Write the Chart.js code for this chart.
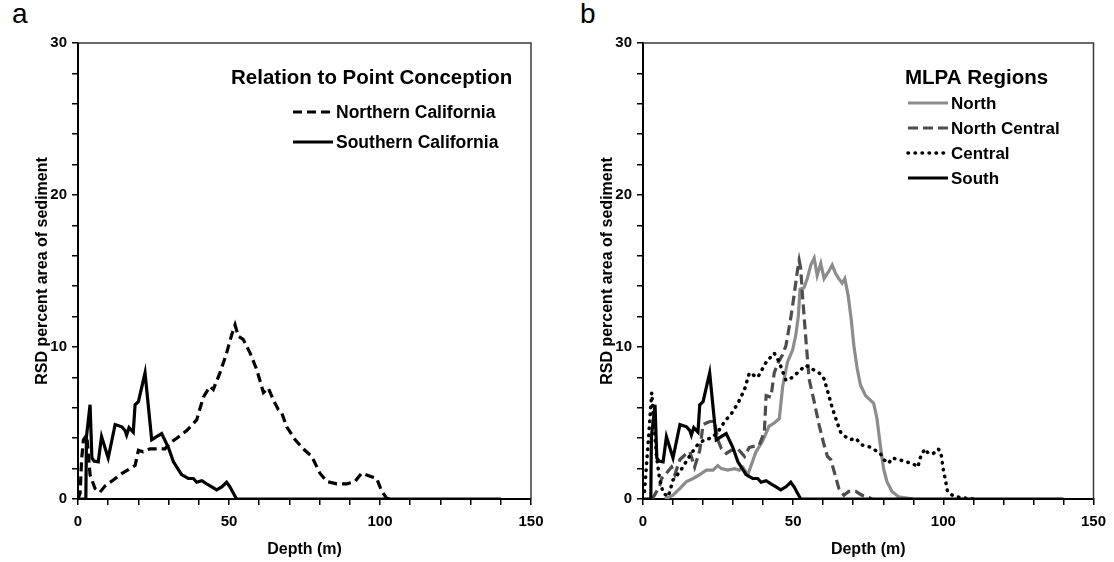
<!DOCTYPE html>
<html>
<head>
  <title>RSD percent area of sediment by depth</title>
  <script src="https://cdn.jsdelivr.net/npm/chart.js"></script>
  <style>
    body { margin: 0; background: #fff; width: 1114px; height: 562px; overflow: hidden; position: relative;
           font-family: "Liberation Sans", Arial, sans-serif; }
    canvas { position: absolute; top: 0; }
    #chartA { left: 0; }
    #chartB { left: 565px; }
    .tag { position: absolute; top: -2px; font-size: 28px; color: #000; }
  </style>
</head>
<body>

<div class="tag" style="left:12px">a</div>
<div class="tag" style="left:580px">b</div>
<canvas id="chartA" width="560" height="562"></canvas>
<canvas id="chartB" width="549" height="562"></canvas>

<script>
// depth (m) / RSD percent values
const southDepth = [0, 2.6, 2.8, 4.0, 4.6, 5.3, 6.7, 7.8, 10, 12.3, 14.5, 15.6, 16.1, 16.9, 18.3, 18.9, 20, 22.2, 24.4,
  27.7, 29.9, 31.6, 34.3, 36.5, 38.2, 39.3, 41, 42.6, 44.3, 45.9, 47.6, 49.2, 50.3, 52.5, 140];
const southRsd = [0, 0, 4.1, 6.2, 2.7, 2.5, 2.45, 4.1, 2.7, 4.9, 4.75, 4.5, 4.2, 4.7, 4.4, 6.2, 6.4, 8.3, 3.9,
  4.3, 3.4, 2.45, 1.6, 1.35, 1.35, 1.1, 1.2, 1.0, 0.8, 0.6, 0.8, 1.1, 0.8, 0, 0];

const northernDepth = [0, 0.7, 1.2, 1.8, 2.9, 4, 5.6, 7.3, 8.9, 11.7, 13.9, 17.2, 18.9, 20, 21.6, 23.8, 26.6, 28.8, 30.5,
  32.7, 36, 39.3, 41.5, 43.7, 44.8, 47, 49.2, 50.9, 52, 53.1, 54.7, 57, 59.2, 61.4, 63, 64.7, 66.3, 67.4, 69.1,
  71.9, 74.6, 77.4, 80.1, 82.4, 85.7, 89, 91.7, 93.9, 96.7, 98.9, 100.6, 102.2, 104.4];
const northernRsd = [0, 0.4, 2.6, 3.9, 4.2, 1.6, 0.7, 0.45, 0.85, 1.25, 1.6, 2.0, 2.2, 3.2, 3.1, 3.3, 3.3, 3.3, 3.7,
  4.0, 4.5, 5.2, 6.7, 7.4, 7.2, 8.3, 9.6, 10.8, 11.45, 10.7, 10.5, 9.6, 8.5, 7.0, 7.3, 6.5, 5.9, 5.7, 4.75,
  3.9, 3.3, 2.8, 1.7, 1.15, 1.0, 1.0, 1.15, 1.7, 1.5, 1.35, 0.5, 0.05, 0];

const northDepth = [7.3, 10, 12.3, 14.5, 16.7, 18.9, 21.1, 23.3, 24.9, 26.1, 28.2, 30.5, 32.1, 33.2, 34.9, 37.6,
  39.8, 42, 43.7, 45.4, 46.5, 48.1, 49.8, 50.9, 51.7, 52.3, 53.6, 54.7, 55.9, 57, 58, 59.2, 60.3, 61.9, 63, 64.1,
  65.2, 66.3, 67.2, 68.3, 69.4, 70.2, 71.3, 72.4, 74.1, 75.7, 76.8, 77.9, 79, 80.1, 81.2, 82.9, 85.1, 88.4, 90];
const northRsd = [0, 0.25, 0.7, 1.15, 1.35, 1.6, 1.9, 1.9, 2.2, 2.0, 1.9, 2.0, 1.9, 2.1, 1.6, 3.1,
  3.8, 4.8, 5.0, 5.3, 7.4, 9.0, 9.8, 10.8, 12.0, 13.8, 13.9, 14.5, 15.4, 15.85, 14.7, 15.5, 14.5, 15.0, 15.4, 14.85,
  14.5, 14.2, 14.5, 13.4, 11.7, 10.1, 8.6, 7.5, 6.8, 6.5, 6.3, 5.3, 3.55, 2.0, 1.15, 0.5, 0.15, 0.05, 0];

const northCentralDepth = [3, 4, 5.6, 6.2, 7.8, 9.5, 10.6, 12.3, 14.5, 15.6, 17.2, 18.9, 20, 22.2, 23.8, 24.9, 26.1,
  27.7, 29.4, 31.6, 33.8, 35.4, 38.7, 40.4, 41, 42.6, 43.7, 44.8, 46.5, 47.6, 49.2, 50.3, 51.4, 52, 52.5, 53.1,
  54.2, 55.3, 57, 58.6, 60.3, 61.4, 62.5, 64.1, 65.2, 66.9, 68.5, 70.8, 72.9, 75.2, 76.3];
const northCentralRsd = [0, 0.3, 0.9, 1.35, 1.7, 2.1, 1.6, 2.6, 3.0, 3.1, 2.1, 3.2, 4.9, 5.1, 5.1, 3.9, 3.3,
  3.0, 3.2, 3.3, 2.8, 3.4, 3.55, 4.4, 6.8, 6.7, 8.3, 8.9, 9.5, 10.1, 11.9, 13.4, 15.0, 15.7, 15.2, 13.4,
  10.6, 7.9, 6.4, 4.9, 3.55, 2.8, 2.6, 1.5, 0.7, 0.25, 0.5, 0.5, 0.25, 0.1, 0];

const centralDepth = [0.5, 1.8, 2.9, 3.4, 4.5, 5.6, 6.7, 8.4, 10, 12.3, 14.5, 16.1, 18.3, 20.5, 22.7, 24.9, 27.2,
  29.4, 31.6, 33.8, 35.4, 38.2, 41, 43.7, 45.4, 47.6, 49.8, 52.5, 54.2, 55.9, 58.6, 60.3, 61.9, 63, 64.7, 65.8,
  67.4, 69.1, 70.8, 72.9, 75.2, 77.4, 79, 80.1, 81.8, 82.9, 85.1, 87.3, 89.7, 91.5, 92.6, 93.9, 95, 96.7, 98.3,
  99.2, 99.7, 100.1, 100.6, 101.4, 103.3, 105.5, 110];
const centralRsd = [0.5, 3.9, 7.0, 5.6, 2.8, 1.25, 0.4, 0.15, 1.25, 1.8, 2.5, 3.0, 3.6, 3.9, 4.0, 4.4, 5.1,
  5.6, 6.3, 7.2, 8.3, 8.0, 9.0, 9.6, 9.0, 7.8, 8.0, 8.5, 8.8, 8.6, 8.3, 7.9, 6.8, 6.0, 5.0, 4.4,
  4.1, 3.9, 4.0, 3.55, 3.45, 3.2, 3.0, 2.6, 2.35, 2.7, 2.6, 2.45, 2.35, 2.1, 2.9, 3.3, 3.0, 3.0, 3.3,
  3.05, 2.35, 1.8, 1.35, 0.5, 0.2, 0.1, 0];

const xTicks = [0, 50, 100, 150];
const yTicks = [0, 10, 20, 30];

const FONT = '"Liberation Sans", Arial, sans-serif';

function pts(depths, values) {
  return depths.map((d, i) => ({ x: d, y: values[i] }));
}

// box round the plot area + hand-placed legend in the top right
const framePlugin = {
  id: 'frame',
  afterDraw(chart) {
    const { ctx, chartArea: a } = chart;
    ctx.save();
    ctx.strokeStyle = '#3a3a3a';
    ctx.lineWidth = 1.5;
    ctx.beginPath();
    ctx.moveTo(a.left, a.top);
    ctx.lineTo(a.right, a.top);
    ctx.lineTo(a.right, a.bottom);
    ctx.stroke();

    const lg = chart.options.plugins.frame;
    ctx.fillStyle = '#000';
    ctx.textBaseline = 'middle';
    ctx.textAlign = 'left';
    ctx.font = 'bold ' + lg.titleSize + 'px ' + FONT;
    ctx.fillText(lg.title, lg.titleX, lg.titleY);
    ctx.font = 'bold ' + lg.size + 'px ' + FONT;
    lg.order.forEach((idx, i) => {
      const ds = chart.data.datasets[idx];
      const y = lg.y0 + i * lg.step;
      ctx.save();
      ctx.strokeStyle = ds.borderColor;
      ctx.lineWidth = ds.borderWidth;
      ctx.lineCap = ds.borderCapStyle || 'butt';
      ctx.setLineDash(ds.borderDash || []);
      ctx.beginPath();
      ctx.moveTo(lg.sampleX, y);
      ctx.lineTo(lg.sampleX + lg.sampleLen, y);
      ctx.stroke();
      ctx.restore();
      ctx.fillText(ds.label, lg.sampleX + lg.sampleLen + 3, y + 1);
    });
    ctx.restore();
  }
};

function makeOptions(rightPad, legend) {
  const tickFont = { family: FONT, size: 15, weight: 'bold' };
  const titleFont = { family: FONT, size: 16, weight: 'bold' };
  return {
    responsive: false,
    animation: false,
    events: [],
    layout: { padding: { left: 0, right: rightPad, top: 43, bottom: 0 } },
    plugins: { legend: { display: false }, tooltip: { enabled: false }, frame: legend },
    elements: { point: { radius: 0 }, line: { tension: 0 } },
    scales: {
      x: {
        type: 'linear', min: 0, max: 150,
        afterFit(scale) { scale.height = 63; },
        afterBuildTicks(scale) {
          const t = [];
          for (let v = 0; v <= 150; v += 10) t.push({ value: v });
          scale.ticks = t;
        },
        ticks: { autoSkip: false, maxRotation: 0, padding: 8, color: '#000', font: tickFont,
          callback: v => (xTicks.includes(v) ? String(v) : '') },
        grid: { drawOnChartArea: false, drawTicks: true, tickLength: 6, color: '#000', lineWidth: 1.5 },
        border: { color: '#000', width: 2 },
        title: { display: true, text: 'Depth (m)', color: '#000', font: titleFont, padding: { top: 0, bottom: 3 } }
      },
      y: {
        type: 'linear', min: 0, max: 30,
        afterFit(scale) { scale.width = 78; },
        afterBuildTicks(scale) {
          const t = [];
          for (let v = 0; v <= 30; v += 2) t.push({ value: v });
          scale.ticks = t;
        },
        ticks: { autoSkip: false, padding: 5, color: '#000', font: tickFont,
          callback: v => (yTicks.includes(v) ? String(v) : '') },
        grid: { drawOnChartArea: false, drawTicks: true, tickLength: 6, color: '#000', lineWidth: 1.5 },
        border: { color: '#000', width: 2 },
        title: { display: true, text: 'RSD percent area of sediment', color: '#000', font: titleFont,
          padding: { top: 33, bottom: 0 } }
      }
    }
  };
}

new Chart(document.getElementById('chartA'), {
  type: 'line',
  data: {
    datasets: [
      { label: 'Northern California', data: pts(northernDepth, northernRsd), borderColor: '#000',
        borderWidth: 3.2, borderDash: [9, 5], order: 2 },
      { label: 'Southern California', data: pts(southDepth, southRsd), borderColor: '#000',
        borderWidth: 3.2, order: 1 }
    ]
  },
  options: makeOptions(29, {
    title: 'Relation to Point Conception', titleSize: 20.5, titleX: 231, titleY: 78,
    size: 17.5, sampleX: 293, sampleLen: 40, y0: 112, step: 30, order: [0, 1]
  }),
  plugins: [framePlugin]
});

new Chart(document.getElementById('chartB'), {
  type: 'line',
  data: {
    datasets: [
      { label: 'North', data: pts(northDepth, northRsd), borderColor: '#8c8c8c', borderWidth: 3.2, order: 4 },
      { label: 'North Central', data: pts(northCentralDepth, northCentralRsd), borderColor: '#4d4d4d',
        borderWidth: 3.2, borderDash: [10, 5], order: 3 },
      { label: 'Central', data: pts(centralDepth, centralRsd), borderColor: '#000', borderWidth: 3.5,
        borderDash: [0.5, 6.5], borderCapStyle: 'round', order: 2 },
      { label: 'South', data: pts(southDepth, southRsd), borderColor: '#000', borderWidth: 3.2, order: 1 }
    ]
  },
  options: makeOptions(19, {
    title: 'MLPA Regions', titleSize: 20.5, titleX: 340, titleY: 78,
    size: 17, sampleX: 343, sampleLen: 40, y0: 103, step: 25, order: [0, 1, 2, 3]
  }),
  plugins: [framePlugin]
});
</script>
</body>
</html>
